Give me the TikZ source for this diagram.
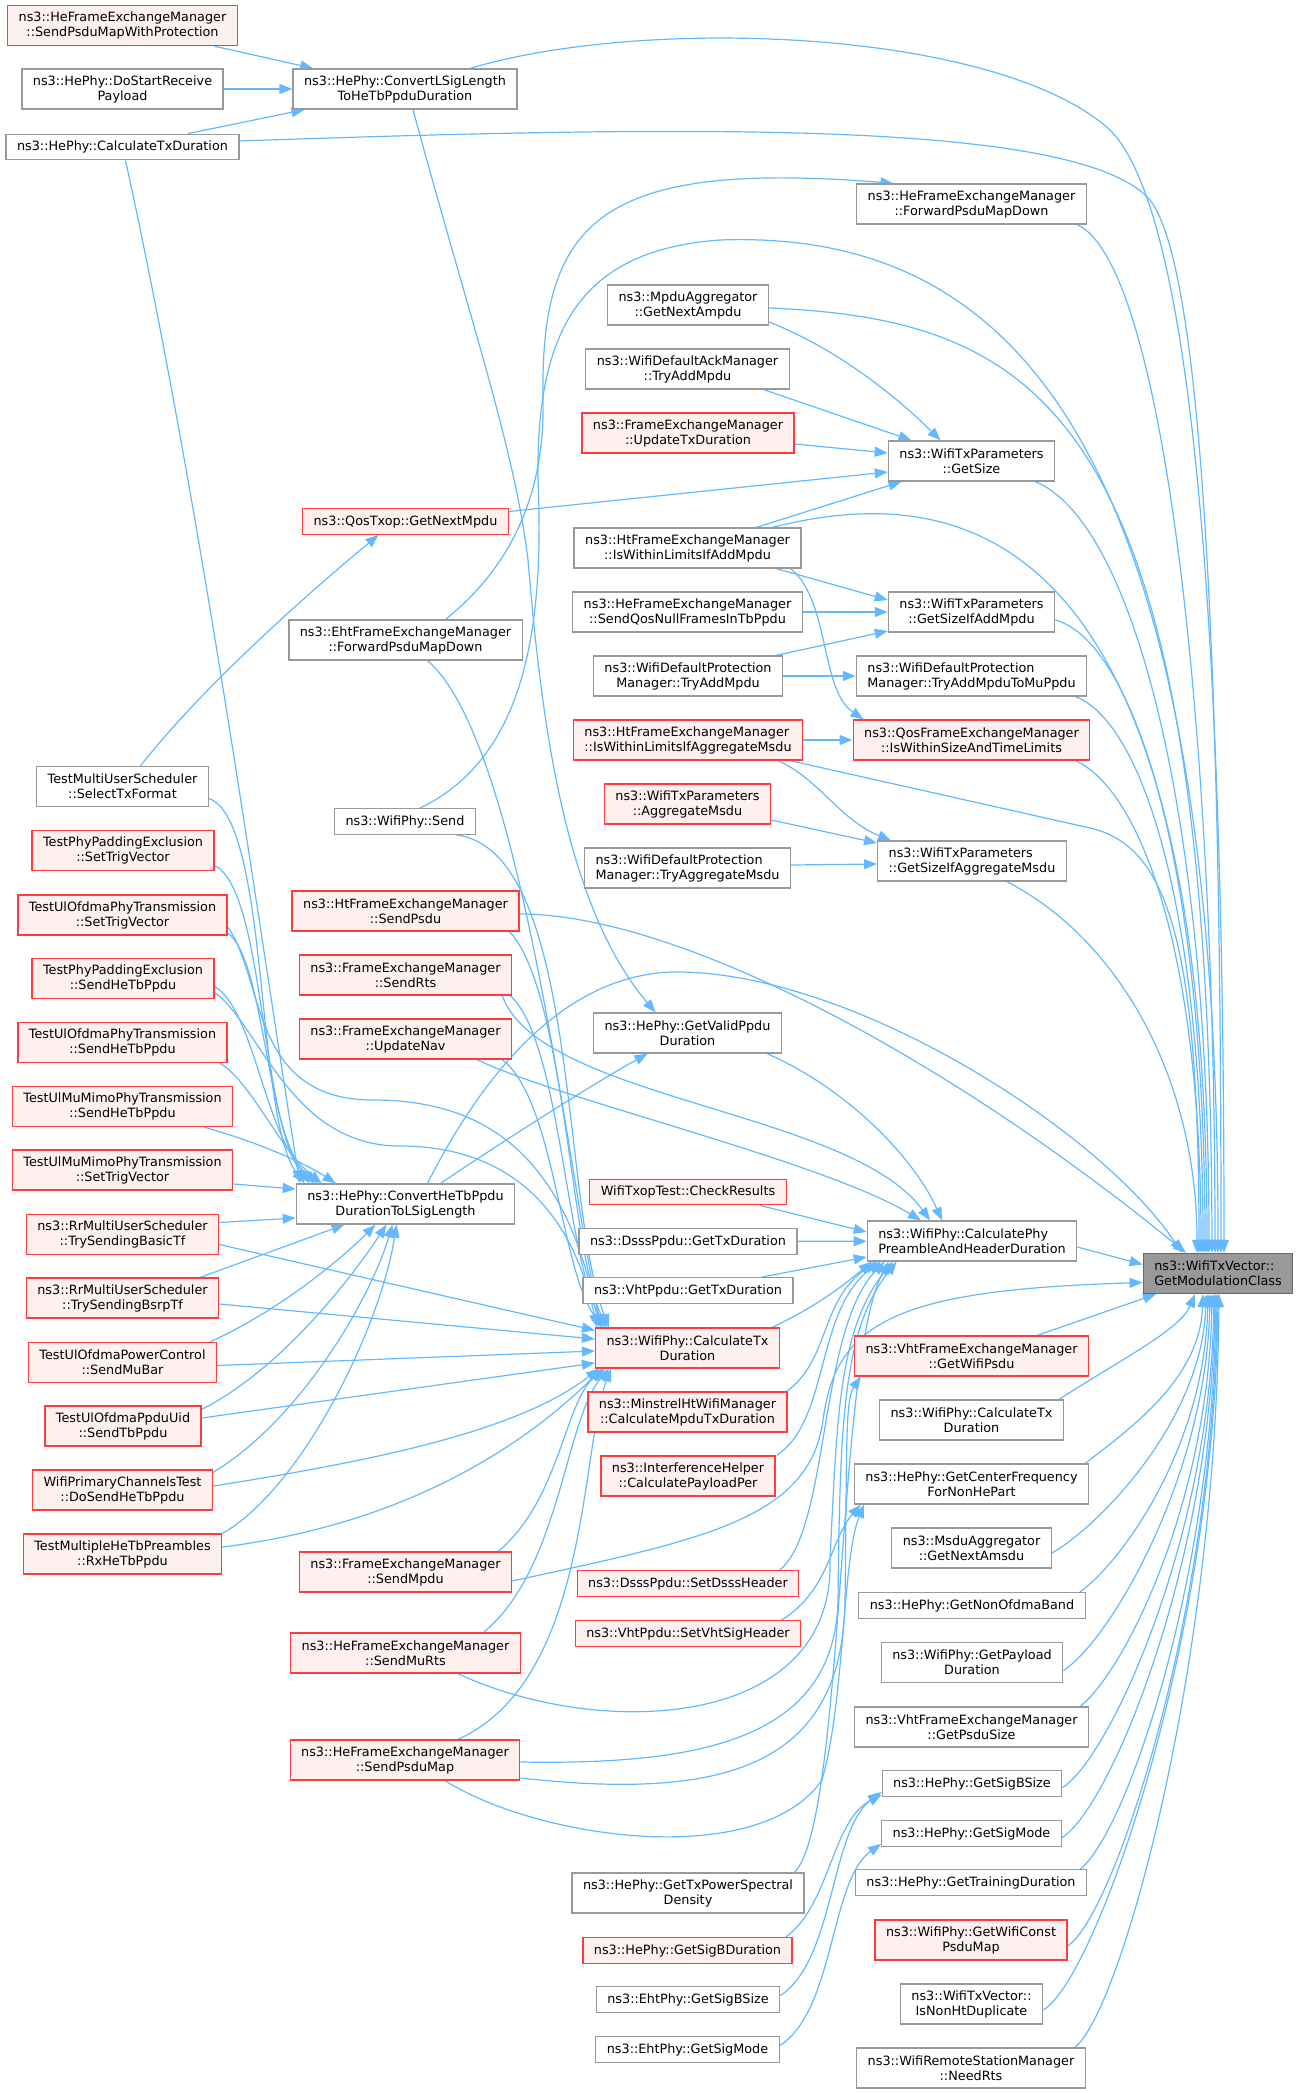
\documentclass[tikz,border=0pt]{standalone}
\usepackage{fontspec}
\setmainfont{DejaVu Sans}
\usetikzlibrary{arrows.meta, backgrounds}
\definecolor{edgeblue}{HTML}{63B8FF}
\definecolor{boxgray}{HTML}{999999}
\definecolor{rootline}{HTML}{666666}
\definecolor{hotred}{HTML}{FF3B3B}
\definecolor{hotfill}{HTML}{FFF0F0}

\begin{document}
\begin{tikzpicture}[x=1pt, y=1pt,
    func/.style={draw=boxgray, fill=white, line width=1.3pt, inner xsep=11pt, inner ysep=3pt,
        minimum height=25.5pt, align=center, font=\fontsize{12.8}{15}\selectfont},
    two line/.style={minimum height=40pt},
    no doc/.style={draw=hotred, fill=hotfill},
    root func/.style={func, draw=rootline, fill=boxgray},
    calls/.style={draw=edgeblue, line width=1.2pt, -{Triangle[length=13pt, width=10pt]}}
]
\useasboundingbox (0,0) rectangle (1296,-2093);

\node[func, two line, no doc] (sendPMWP) at (122.5,-25.5) {ns3::HeFrameExchangeManager\\::SendPsduMapWithProtection};
\node[func, two line] (doStartRP) at (122.5,-89) {ns3::HePhy::DoStartReceive\\Payload};
\node[func, two line] (convLSig) at (405,-89) {ns3::HePhy::ConvertLSigLength\\ToHeTbPpduDuration};
\node[func] (heCalcTx) at (122.5,-147) {ns3::HePhy::CalculateTxDuration};
\node[func, two line] (heFwd) at (971.5,-204) {ns3::HeFrameExchangeManager\\::ForwardPsduMapDown};
\node[func, two line] (mpduAggr) at (688,-305) {ns3::MpduAggregator\\::GetNextAmpdu};
\node[func, two line] (ackTryAdd) at (687.5,-369) {ns3::WifiDefaultAckManager\\::TryAddMpdu};
\node[func, two line, no doc] (updTxDur) at (688,-433) {ns3::FrameExchangeManager\\::UpdateTxDuration};
\node[func, two line] (getSize) at (971.5,-461) {ns3::WifiTxParameters\\::GetSize};
\node[func, no doc] (qosNext) at (405.5,-521.5) {ns3::QosTxop::GetNextMpdu};
\node[func, two line] (htAddMpdu) at (687.5,-548) {ns3::HtFrameExchangeManager\\::IsWithinLimitsIfAddMpdu};
\node[func, two line] (qosNull) at (687.5,-612) {ns3::HeFrameExchangeManager\\::SendQosNullFramesInTbPpdu};
\node[func, two line] (sizeAddMpdu) at (971.5,-612) {ns3::WifiTxParameters\\::GetSizeIfAddMpdu};
\node[func, two line] (ehtFwd) at (405.5,-640) {ns3::EhtFrameExchangeManager\\::ForwardPsduMapDown};
\node[func, two line] (protTryAdd) at (688,-676) {ns3::WifiDefaultProtection\\Manager::TryAddMpdu};
\node[func, two line, align=left] (protMuPpdu) at (971.5,-676) {ns3::WifiDefaultProtection\\Manager::TryAddMpduToMuPpdu};
\node[func, two line, no doc, align=left] (htAggrMsdu) at (688,-740) {ns3::HtFrameExchangeManager\\::IsWithinLimitsIfAggregateMsdu};
\node[func, two line, no doc] (qosLimits) at (971.5,-740) {ns3::QosFrameExchangeManager\\::IsWithinSizeAndTimeLimits};
\node[func, two line] (selTxFmt) at (122.5,-786.5) {TestMultiUserScheduler\\::SelectTxFormat};
\node[func, two line, no doc] (aggrMsdu) at (687.5,-804) {ns3::WifiTxParameters\\::AggregateMsdu};
\node[func] (phySend) at (405,-821.5) {ns3::WifiPhy::Send};
\node[func, two line, no doc] (padTrig) at (123,-850.5) {TestPhyPaddingExclusion\\::SetTrigVector};
\node[func, two line, align=left] (protAggr) at (687.5,-868) {ns3::WifiDefaultProtection\\Manager::TryAggregateMsdu};
\node[func, two line, align=left] (sizeAggr) at (972,-861) {ns3::WifiTxParameters\\::GetSizeIfAggregateMsdu};
\node[func, two line, no doc] (ulofTrig) at (122.5,-915) {TestUlOfdmaPhyTransmission\\::SetTrigVector};
\node[func, two line, no doc] (htSendPsdu) at (405.5,-911) {ns3::HtFrameExchangeManager\\::SendPsdu};
\node[func, two line, no doc] (padSendTb) at (123,-978.5) {TestPhyPaddingExclusion\\::SendHeTbPpdu};
\node[func, two line, no doc] (femSendRts) at (405.5,-975) {ns3::FrameExchangeManager\\::SendRts};
\node[func, two line] (getValid) at (687.5,-1033) {ns3::HePhy::GetValidPpdu\\Duration};
\node[func, two line, no doc] (ulofSendTb) at (122.5,-1042.5) {TestUlOfdmaPhyTransmission\\::SendHeTbPpdu};
\node[func, two line, no doc] (femUpdNav) at (405.5,-1039) {ns3::FrameExchangeManager\\::UpdateNav};
\node[func, two line, no doc] (mimoSendTb) at (122.5,-1106.5) {TestUlMuMimoPhyTransmission\\::SendHeTbPpdu};
\node[func, two line, no doc] (mimoTrig) at (122.5,-1170) {TestUlMuMimoPhyTransmission\\::SetTrigVector};
\node[func, two line] (convHeTb) at (405.5,-1204) {ns3::HePhy::ConvertHeTbPpdu\\DurationToLSigLength};
\node[func, no doc] (checkRes) at (688,-1192) {WifiTxopTest::CheckResults};
\node[func, two line, no doc] (basicTf) at (122.5,-1234.5) {ns3::RrMultiUserScheduler\\::TrySendingBasicTf};
\node[func] (dsssTx) at (688,-1241.5) {ns3::DsssPpdu::GetTxDuration};
\node[func, two line, align=left] (calcPhyPre) at (972,-1241) {ns3::WifiPhy::CalculatePhy\\PreambleAndHeaderDuration};
\node[root func, two line, align=left] (modClass) at (1218,-1273.5) {ns3::WifiTxVector::\\GetModulationClass};
\node[func, two line, no doc] (bsrpTf) at (122.5,-1298) {ns3::RrMultiUserScheduler\\::TrySendingBsrpTf};
\node[func] (vhtTx) at (688,-1290.5) {ns3::VhtPpdu::GetTxDuration};
\node[func, two line, no doc] (calcTx) at (687.5,-1348) {ns3::WifiPhy::CalculateTx\\Duration};
\node[func, two line, no doc] (vhtGetPsdu) at (971.5,-1356) {ns3::VhtFrameExchangeManager\\::GetWifiPsdu};
\node[func, two line, no doc] (muBar) at (122.5,-1362.5) {TestUlOfdmaPowerControl\\::SendMuBar};
\node[func, two line, no doc] (minstrel) at (687.5,-1412) {ns3::MinstrelHtWifiManager\\::CalculateMpduTxDuration};
\node[func, two line] (calcTxW) at (971.5,-1420) {ns3::WifiPhy::CalculateTx\\Duration};
\node[func, two line, no doc] (ppduUid) at (123,-1426) {TestUlOfdmaPpduUid\\::SendTbPpdu};
\node[func, two line, no doc] (interfPer) at (688,-1476) {ns3::InterferenceHelper\\::CalculatePayloadPer};
\node[func, two line] (centerFreq) at (971.5,-1484) {ns3::HePhy::GetCenterFrequency\\ForNonHePart};
\node[func, two line, no doc] (primChan) at (122.5,-1490) {WifiPrimaryChannelsTest\\::DoSendHeTbPpdu};
\node[func, two line] (nextAmsdu) at (971.5,-1548) {ns3::MsduAggregator\\::GetNextAmsdu};
\node[func, two line, no doc] (rxHeTb) at (122.5,-1554) {TestMultipleHeTbPreambles\\::RxHeTbPpdu};
\node[func, two line, no doc] (femSendMpdu) at (405.5,-1572) {ns3::FrameExchangeManager\\::SendMpdu};
\node[func, no doc] (dsssHdr) at (688,-1583.5) {ns3::DsssPpdu::SetDsssHeader};
\node[func] (nonOfdma) at (972,-1605.5) {ns3::HePhy::GetNonOfdmaBand};
\node[func, no doc] (vhtSigHdr) at (688,-1633.5) {ns3::VhtPpdu::SetVhtSigHeader};
\node[func, two line, no doc] (heSendMuRts) at (405.5,-1653) {ns3::HeFrameExchangeManager\\::SendMuRts};
\node[func, two line] (payloadDur) at (972,-1662.5) {ns3::WifiPhy::GetPayload\\Duration};
\node[func, two line] (vhtPsduSize) at (971.5,-1727) {ns3::VhtFrameExchangeManager\\::GetPsduSize};
\node[func, two line, no doc] (heSendPsduMap) at (405,-1760) {ns3::HeFrameExchangeManager\\::SendPsduMap};
\node[func] (sigBSize) at (972,-1783.5) {ns3::HePhy::GetSigBSize};
\node[func] (sigMode) at (971.5,-1833.5) {ns3::HePhy::GetSigMode};
\node[func] (trainDur) at (971,-1882.5) {ns3::HePhy::GetTrainingDuration};
\node[func, two line] (txPsd) at (688,-1893) {ns3::HePhy::GetTxPowerSpectral\\Density};
\node[func, two line, no doc] (constPsdu) at (971,-1940) {ns3::WifiPhy::GetWifiConst\\PsduMap};
\node[func, no doc] (sigBDur) at (687.5,-1950.5) {ns3::HePhy::GetSigBDuration};
\node[func, two line] (nonHtDup) at (971.5,-2004) {ns3::WifiTxVector::\\IsNonHtDuplicate};
\node[func] (ehtSigBSize) at (688,-1999.5) {ns3::EhtPhy::GetSigBSize};
\node[func] (ehtSigMode) at (687.5,-2049.5) {ns3::EhtPhy::GetSigMode};
\node[func, two line] (needRts) at (971,-2068) {ns3::WifiRemoteStationManager\\::NeedRts};

\begin{pgfonlayer}{background}
% top left
\draw[calls] (sendPMWP) -- (convLSig);
\draw[calls] (doStartRP) -- (convLSig);
\draw[calls] (heCalcTx) -- (convLSig);
\draw[calls] ([xshift=65pt]convLSig.north) .. controls (650,-15) and (1000,-30) .. (1110,-130) .. controls (1200,-220) and (1224,-700) .. ([xshift=6pt]modClass.north);
\draw[calls] ([yshift=6pt]heCalcTx.east) .. controls (700,-125) and (1080,-120) .. (1150,-200) .. controls (1205,-270) and (1221,-700) .. ([xshift=3pt]modClass.north);
\draw[calls] ([xshift=3pt]heCalcTx.south) .. controls (200,-500) and (255,-900) .. ([xshift=4pt]convHeTb.north west);
\draw[calls] ([xshift=8pt]convLSig.south) .. controls (470,-320) and (515,-450) .. (528,-560) .. controls (540,-700) and (560,-900) .. ([xshift=-32pt]getValid.north);
\draw[calls] ([xshift=40pt]ehtFwd.north) .. controls (520,-560) and (545,-480) .. (543,-400) .. controls (540,-220) and (600,-160) .. ([xshift=-78pt]heFwd.north);
\draw[calls] ([xshift=22pt]ehtFwd.south) .. controls (520,-740) and (565,-1150) .. ([xshift=6pt]calcTx.north west);
\draw[calls] ([xshift=15pt]phySend.north) .. controls (520,-760) and (545,-640) .. (538,-480) .. controls (536,-330) and (580,-250) .. (720,-240) .. controls (1000,-230) and (1218,-420) .. (modClass.north);
\draw[calls] ([xshift=-20pt]phySend.south east) .. controls (580,-850) and (560,-1200) .. ([xshift=14pt]calcTx.north west);
\draw[calls] ([xshift=18pt]selTxFmt.north) .. controls (200,-690) and (300,-600) .. ([xshift=-27pt]qosNext.south);
\draw[calls] ([yshift=10pt]qosNext.east) -- ([yshift=-11pt]getSize.west);

% right column, upper part
\draw[calls] ([xshift=-10pt]heFwd.south east) .. controls (1160,-260) and (1215,-700) .. ([xshift=-3pt]modClass.north);
\draw[calls] ([yshift=-3pt]mpduAggr.east) .. controls (1050,-320) and (1210,-420) .. ([xshift=-6pt]modClass.north);
\draw[calls] ([yshift=-17pt]mpduAggr.east) .. controls (840,-350) and (900,-400) .. ([xshift=-31pt]getSize.north);
\draw[calls] ([xshift=-26pt]ackTryAdd.south east) -- ([xshift=-60pt]getSize.north);
\draw[calls] ([yshift=-11pt]updTxDur.east) -- ([yshift=8pt]getSize.west);
\draw[calls] ([xshift=-20pt]getSize.south east) .. controls (1130,-520) and (1209,-800) .. ([xshift=-9pt]modClass.north);
\draw[calls] ([xshift=69pt]htAddMpdu.north) -- ([xshift=-70pt]getSize.south);
\draw[calls] ([xshift=85pt]htAddMpdu.north) .. controls (960,-480) and (1207,-520) .. ([xshift=-11pt]modClass.north);
\draw[calls] ([xshift=89pt]htAddMpdu.south) -- ([yshift=12pt]sizeAddMpdu.west);
\draw[calls] ([xshift=103pt]htAddMpdu.south) .. controls (830,-600) and (820,-690) .. ([xshift=-108pt]qosLimits.north);
\draw[calls] (qosNull) -- (sizeAddMpdu);
\draw[calls] ([xshift=-7pt]protTryAdd.north east) -- ([yshift=-19pt]sizeAddMpdu.west);
\draw[calls] (protTryAdd) -- (protMuPpdu);
\draw[calls] ([yshift=-8pt]sizeAddMpdu.east) .. controls (1130,-640) and (1205,-850) .. ([xshift=-13pt]modClass.north);
\draw[calls] ([xshift=-12pt]protMuPpdu.south east) .. controls (1140,-720) and (1203,-900) .. ([xshift=-15pt]modClass.north);
\draw[calls] (htAggrMsdu) -- (qosLimits);
\draw[calls] ([xshift=-15pt]qosLimits.south east) .. controls (1140,-790) and (1201,-950) .. ([xshift=-17pt]modClass.north);
\draw[calls] ([xshift=-13pt]htAggrMsdu.south east) -- (1090,-828) .. controls (1170,-846) and (1199,-950) .. ([xshift=-19pt]modClass.north);
\draw[calls] ([xshift=-25pt]htAggrMsdu.south east) .. controls (820,-780) and (840,-820) .. ([xshift=-81pt]sizeAggr.north);
\draw[calls] ([yshift=-16pt]aggrMsdu.east) -- ([yshift=18pt]sizeAggr.west);
\draw[calls] ([yshift=3pt]protAggr.east) -- ([yshift=-3pt]sizeAggr.west);
\draw[calls] ([xshift=-60pt]sizeAggr.south east) .. controls (1120,-940) and (1197,-1080) .. ([xshift=-21pt]modClass.north);

% middle column
\draw[calls] ([yshift=-3pt]htSendPsdu.east) .. controls (680,-914) and (950,-1060) .. ([xshift=-32pt]modClass.north);
\draw[calls] ([xshift=-10pt]htSendPsdu.south east) .. controls (565,-990) and (570,-1250) .. ([xshift=12pt]calcTx.north west);
\draw[calls] ([xshift=-10pt]femSendRts.south east) .. controls (540,-1100) and (850,-1110) .. ([xshift=-42pt]calcPhyPre.north);
\draw[calls] ([xshift=-2pt]femSendRts.south east) .. controls (560,-1040) and (565,-1250) .. ([xshift=10pt]calcTx.north west);
\draw[calls] ([xshift=-35pt]femUpdNav.south east) .. controls (560,-1100) and (820,-1160) .. ([xshift=-51pt]calcPhyPre.north);
\draw[calls] ([xshift=-10pt]femUpdNav.south east) .. controls (555,-1100) and (560,-1270) .. ([xshift=8pt]calcTx.north west);
\draw[calls] ([xshift=-15pt]getValid.south east) .. controls (850,-1090) and (915,-1160) .. ([xshift=-30pt]calcPhyPre.north);
\draw[calls] ([xshift=35pt]convHeTb.north) .. controls (520,-1130) and (600,-1080) .. ([xshift=-40pt]getValid.south);
\draw[calls] ([xshift=22pt]convHeTb.north) .. controls (480,-1080) and (560,-975) .. (673,-972) .. controls (850,-970) and (1100,-1130) .. ([xshift=-36pt]modClass.north);

% left tests
\draw[calls] ([yshift=-12pt]selTxFmt.east) .. controls (270,-820) and (255,-1120) .. ([xshift=9pt]convHeTb.north west);
\draw[calls] ([yshift=-15pt]padTrig.east) .. controls (265,-890) and (260,-1120) .. ([xshift=14pt]convHeTb.north west);
\draw[calls] ([yshift=-18pt]ulofTrig.east) .. controls (265,-960) and (265,-1130) .. ([xshift=18pt]convHeTb.north west);
\draw[calls] ([yshift=-12pt]ulofTrig.east) .. controls (265,-980) and (250,-1100) .. (373,-1100) .. controls (480,-1100) and (565,-1150) .. ([xshift=4pt]calcTx.north west);
\draw[calls] ([yshift=-8pt]padSendTb.east) .. controls (255,-1010) and (265,-1140) .. ([xshift=22pt]convHeTb.north west);
\draw[calls] ([yshift=-14pt]padSendTb.east) .. controls (260,-1025) and (290,-1146) .. (400,-1146) .. controls (500,-1146) and (570,-1200) .. ([xshift=2pt]calcTx.north west);
\draw[calls] ([xshift=-8pt]ulofSendTb.south east) .. controls (250,-1080) and (280,-1150) .. ([xshift=26pt]convHeTb.north west);
\draw[calls] ([xshift=-29pt]mimoSendTb.south east) .. controls (250,-1140) and (300,-1160) .. ([xshift=40pt]convHeTb.north west);
\draw[calls] ([yshift=-14pt]mimoTrig.east) -- ([yshift=15pt]convHeTb.west);
\draw[calls] ([yshift=12pt]basicTf.east) -- ([yshift=-14pt]convHeTb.west);
\draw[calls] ([yshift=-10pt]basicTf.east) -- ([yshift=-3pt]calcTx.north west);
\draw[calls] ([xshift=-19pt]bsrpTf.north east) -- ([xshift=-61pt]convHeTb.south);
\draw[calls] ([yshift=-6pt]bsrpTf.east) -- ([yshift=9pt]calcTx.west);
\draw[calls] ([xshift=-7pt]muBar.north east) .. controls (280,-1310) and (340,-1260) .. ([xshift=-30pt]convHeTb.south);
\draw[calls] ([yshift=-3pt]muBar.east) -- ([yshift=-3pt]calcTx.west);
\draw[calls] ([yshift=-4pt]ppduUid.north east) .. controls (280,-1370) and (350,-1280) .. ([xshift=-19pt]convHeTb.south);
\draw[calls] ([yshift=8pt]ppduUid.east) -- ([yshift=-15pt]calcTx.west);
\draw[calls] ([yshift=-3pt]primChan.north east) .. controls (300,-1420) and (370,-1300) .. ([xshift=-13pt]convHeTb.south);
\draw[calls] ([yshift=4pt]primChan.east) .. controls (380,-1460) and (520,-1430) .. ([xshift=4pt]calcTx.south west);
\draw[calls] (rxHeTb.north east) .. controls (300,-1490) and (380,-1330) .. ([xshift=-9pt]convHeTb.south);
\draw[calls] ([yshift=7pt]rxHeTb.east) .. controls (400,-1525) and (520,-1450) .. ([xshift=7pt]calcTx.south west);

% lower middle
\draw[calls] ([xshift=-14pt]femSendMpdu.north east) .. controls (560,-1500) and (565,-1400) .. ([xshift=10pt]calcTx.south west);
\draw[calls] ([yshift=-9pt]femSendMpdu.east) .. controls (700,-1540) and (810,-1520) .. (823,-1420) .. controls (836,-1320) and (900,-1290) .. ([yshift=-9pt]modClass.west);
\draw[calls] ([xshift=78pt]heSendMuRts.north) .. controls (560,-1570) and (565,-1420) .. ([xshift=14pt]calcTx.south west);
\draw[calls] ([xshift=-63pt]heSendMuRts.south east) .. controls (600,-1740) and (835,-1730) .. (830,-1560) .. controls (837,-1420) and (838,-1330) .. ([xshift=26pt]calcPhyPre.south west);
\draw[calls] ([xshift=53pt]heSendPsduMap.north) .. controls (590,-1680) and (580,-1450) .. ([xshift=16pt]calcTx.south west);
\draw[calls] ([yshift=-2pt]heSendPsduMap.east) .. controls (700,-1765) and (835,-1740) .. (838,-1600) .. controls (840,-1430) and (842,-1330) .. ([xshift=30pt]calcPhyPre.south west);
\draw[calls] ([yshift=-18pt]heSendPsduMap.east) .. controls (720,-1800) and (843,-1770) .. (845,-1600) .. controls (847,-1450) and (845,-1400) .. ([xshift=7pt]vhtGetPsdu.south west);
\draw[calls] ([xshift=40pt]heSendPsduMap.south) .. controls (540,-1840) and (760,-1870) .. (822,-1780) .. controls (845,-1700) and (842,-1560) .. ([xshift=10pt]centerFreq.south west);

% into the preamble duration
\draw[calls] ([xshift=-27pt]checkRes.south east) -- ([yshift=9pt]calcPhyPre.west);
\draw[calls] (dsssTx) -- (calcPhyPre);
\draw[calls] ([xshift=-32pt]vhtTx.north east) -- ([yshift=-16pt]calcPhyPre.west);
\draw[calls] ([xshift=-8pt]calcTx.north east) .. controls (820,-1305) and (850,-1280) .. ([xshift=5pt]calcPhyPre.south west);
\draw[calls] ([xshift=-1pt]minstrel.north east) .. controls (830,-1360) and (820,-1300) .. ([xshift=10pt]calcPhyPre.south west);
\draw[calls] ([xshift=1pt]interfPer.north east) .. controls (830,-1420) and (815,-1310) .. ([xshift=14pt]calcPhyPre.south west);
\draw[calls] ([xshift=-20pt]dsssHdr.north east) .. controls (830,-1530) and (818,-1330) .. ([xshift=18pt]calcPhyPre.south west);
\draw[calls] ([xshift=-20pt]vhtSigHdr.north east) .. controls (830,-1590) and (830,-1540) .. ([xshift=7pt]centerFreq.south west);
\draw[calls] ([xshift=-10pt]txPsd.north east) .. controls (845,-1820) and (836,-1360) .. ([xshift=22pt]calcPhyPre.south west);
\draw[calls] ([xshift=-7pt]sigBDur.north east) .. controls (830,-1905) and (832,-1820) .. ([yshift=2pt]sigBSize.south west);
\draw[calls] ([yshift=4pt]ehtSigBSize.east) .. controls (835,-1960) and (830,-1830) .. ([yshift=5pt]sigBSize.south west);
\draw[calls] ([yshift=4pt]ehtSigMode.east) .. controls (835,-2010) and (830,-1880) .. ([yshift=3pt]sigMode.south west);
\draw[calls] ([yshift=-6pt]calcPhyPre.east) -- ([yshift=9pt]modClass.west);

% right column, lower part
\draw[calls] ([xshift=-52pt]vhtGetPsdu.north east) -- ([xshift=-62pt]modClass.south);
\draw[calls] ([xshift=-5pt]calcTxW.north east) .. controls (1120,-1360) and (1180,-1330) .. ([xshift=-23pt]modClass.south);
\draw[calls] ([xshift=-4pt]centerFreq.north east) .. controls +(45,35) and +(-3,-85) .. ([xshift=-15pt]modClass.south);
\draw[calls] ([yshift=-5pt]nextAmsdu.east) .. controls +(49,28) and +(-3,-124) .. ([xshift=-12pt]modClass.south);
\draw[calls] ([xshift=-6pt]nonOfdma.north east) .. controls +(45,33) and +(-3,-150) .. ([xshift=-10pt]modClass.south);
\draw[calls] ([yshift=-8pt]payloadDur.east) .. controls +(47,30) and +(-3,-180) .. ([xshift=-8pt]modClass.south);
\draw[calls] ([xshift=-9pt]vhtPsduSize.north east) .. controls +(45,35) and +(-3,-206) .. ([xshift=-6pt]modClass.south);
\draw[calls] ([yshift=-4pt]sigBSize.east) .. controls +(47,29) and +(-3,-242) .. ([xshift=-4pt]modClass.south);
\draw[calls] ([yshift=-4pt]sigMode.east) .. controls +(48,29) and +(-3,-267) .. ([xshift=-3pt]modClass.south);
\draw[calls] ([xshift=-7pt]trainDur.north east) .. controls +(45,35) and +(-3,-288) .. ([xshift=-2pt]modClass.south);
\draw[calls] ([yshift=-6pt]constPsdu.east) .. controls +(47,31) and +(-3,-316) .. ([xshift=-1pt]modClass.south);
\draw[calls] ([yshift=-6pt]nonHtDup.east) .. controls +(52,30) and +(-3,-348) .. (modClass.south);
\draw[calls] ([xshift=-11pt]needRts.north east) .. controls +(45,35) and +(-3,-377) .. ([xshift=1pt]modClass.south);
\end{pgfonlayer}

\end{tikzpicture}
\end{document}
